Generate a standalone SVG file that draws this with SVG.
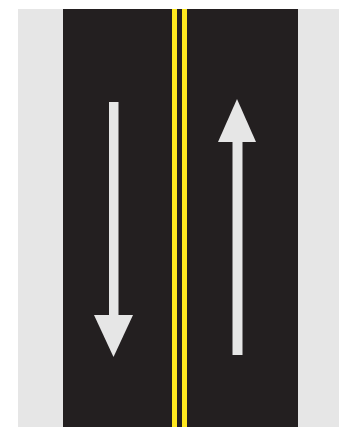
<svg xmlns="http://www.w3.org/2000/svg" width="339" height="427" viewBox="0 0 339 427">
<style>
.shoulder{fill:#e6e6e6}
.road{fill:#231f20}
.yellow{fill:#ffe81f}
.arrow{fill:#e6e6e6}
</style>
<rect x="0" y="0" width="339" height="427" fill="#ffffff"/>
<rect class="shoulder" x="18" y="9" width="321" height="418"/>
<rect class="road" x="63" y="9" width="235" height="418"/>
<rect class="yellow" x="172" y="9" width="5" height="418"/>
<rect class="yellow" x="182" y="9" width="5" height="418"/>
<g id="down-arrow">
<rect class="arrow" x="109" y="102" width="9.5" height="215"/>
<polygon class="arrow" points="94,315 133,315 113.5,357"/>
</g>
<g id="up-arrow">
<rect class="arrow" x="232.5" y="140" width="10" height="215"/>
<polygon class="arrow" points="218,142 256,142 237,99"/>
</g>
</svg>
